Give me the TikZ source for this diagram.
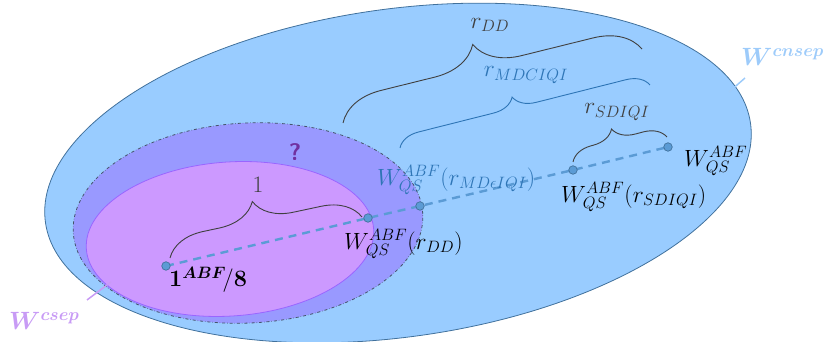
\RequirePackage{fix-cm}
\documentclass[tikz,border=0pt]{standalone}
\usepackage{amsmath}
\usepackage{amssymb}
\usepackage{bm}
\usetikzlibrary{decorations.pathreplacing}

\definecolor{cnsepfill}{HTML}{99CCFF}
\definecolor{cnsepline}{HTML}{41719C}
\definecolor{qfill}{HTML}{9999FF}
\definecolor{qline}{HTML}{44546A}
\definecolor{csepfill}{HTML}{CC99FF}
\definecolor{csepline}{HTML}{9966FF}
\definecolor{dotblue}{HTML}{5B9BD5}
\definecolor{txtblue}{HTML}{2E75B6}
\definecolor{txtgray}{HTML}{404040}
\definecolor{qmark}{HTML}{7030A0}
\definecolor{cnseptxt}{HTML}{9DCBFA}
\definecolor{cseptxt}{HTML}{C89BF5}

\begin{document}
\begin{tikzpicture}[x=1pt,y=1pt,
  spot/.style={circle,fill=dotblue,draw=cnsepline,line width=0.7pt,inner sep=0pt,minimum size=8.5pt},
  lbl/.style={font=\fontsize{23.5}{27}\selectfont,inner sep=1pt},
  setlbl/.style={font=\fontsize{25}{28}\selectfont,inner sep=1pt,anchor=west},
  brc/.style={decorate,decoration={brace,amplitude=#1,aspect=0.47},line width=0.9pt}]
\useasboundingbox (0,0) rectangle (831,342);

% regions
\draw[fill=cnsepfill,draw=cnsepline,line width=0.8pt,rotate around={8:(398,169)}]
  (398,169) ellipse [x radius=356,y radius=164];
\draw[fill=qfill,draw=qline,dash dot,line width=0.8pt,rotate around={3:(248,119)}]
  (248,119) ellipse [x radius=175,y radius=100];
\draw[fill=csepfill,draw=csepline,line width=0.8pt,rotate around={4:(230,103)}]
  (230,103) ellipse [x radius=144,y radius=77];

% points on the ray
\coordinate (one) at (166,76);
\coordinate (wdd) at (368,124);
\coordinate (wmd) at (420,136);
\coordinate (wsd) at (573,172);
\coordinate (wqs) at (668,195);
\draw[dotblue,dashed,line width=2.4pt,dash pattern=on 8pt off 6pt]
  (one) -- (wdd) -- (wmd) -- (wsd) -- (wqs);
\foreach \p in {one,wdd,wmd,wsd,wqs}
  \node[spot] (\p-dot) at (\p) {};

\node[lbl,anchor=west] (one-lbl) at (168,62) {$\mathbf{1}^{\bm{ABF}}\!/\mathbf{8}$};
\node[lbl,anchor=west] (wdd-lbl) at (343,98) {$W_{QS}^{ABF}(r_{DD})$};
\node[lbl,anchor=west,text=txtblue] (wmd-lbl) at (376,162) {$W_{QS}^{ABF}(r_{MD\epsilon IQI})$};
\node[lbl,anchor=west] (wsd-lbl) at (560,145) {$W_{QS}^{ABF}(r_{SDIQI})$};
\node[lbl,anchor=west] (wqs-lbl) at (683,181) {$W_{QS}^{ABF}$};

% braces
\coordinate (b1s) at (170,84);  \coordinate (b1e) at (362,125);
\coordinate (b2s) at (343,219); \coordinate (b2e) at (642,293);
\coordinate (b3s) at (400,194); \coordinate (b3e) at (650,257);
\coordinate (b4s) at (573,180); \coordinate (b4e) at (667,205);
\draw[brc=38,txtgray] (b1s) -- (b1e);
\draw[brc=45,txtgray] (b2s) -- (b2e);
\draw[brc=22,txtblue] (b3s) -- (b3e);
\draw[brc=22,txtgray] (b4s) -- (b4e);
\node[lbl,text=txtgray] (b1-lbl) at (258,157) {$1$};
\node[lbl,text=txtgray] (b2-lbl) at (490,317) {$r_{DD}$};
\node[lbl,text=txtblue] (b3-lbl) at (526,267) {$r_{MDCIQI}$};
\node[lbl,text=txtgray] (b4-lbl) at (617,230) {$r_{SDIQI}$};

\node[font=\fontsize{24}{26}\selectfont\sffamily\bfseries,text=qmark] (qm) at (295,190) {?};

% set names
\node[setlbl,text=cnseptxt] (cnsep) at (740,285) {$\bm{W^{cnsep}}$};
\node[setlbl,text=cseptxt] (csep) at (8,21) {$\bm{W^{csep}}$};
\coordinate (cnsep-a) at (729,250); \coordinate (cnsep-b) at (745,264);
\coordinate (csep-a) at (87,42);    \coordinate (csep-b) at (111,60);
\draw[cnseptxt,line width=1.5pt] (cnsep-a) -- (cnsep-b);
\draw[cseptxt,line width=1.5pt] (csep-a) -- (csep-b);
\end{tikzpicture}
\end{document}
